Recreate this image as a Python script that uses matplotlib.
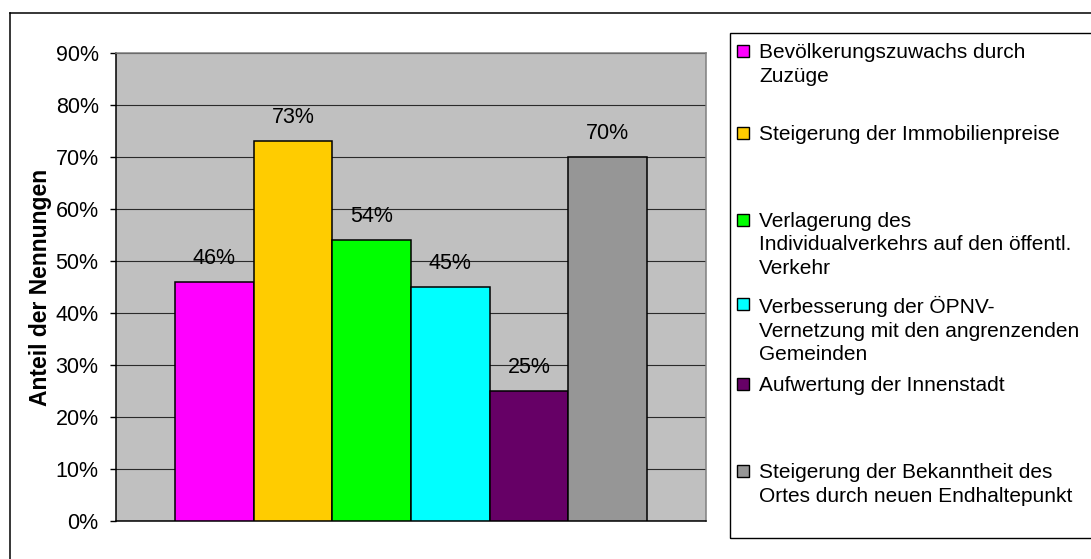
#!usr/bin/python
"""
Bar chart: Anteil der Nennungen (Excel style, legend on the right)
"""
import matplotlib.pyplot as plt
from matplotlib.lines import Line2D
from matplotlib.patches import Rectangle

# DATA
categories = [
    'Bevölkerungszuwachs durch\nZuzüge',
    'Steigerung der Immobilienpreise',
    'Verlagerung des\nIndividualverkehrs auf den öffentl.\nVerkehr',
    'Verbesserung der ÖPNV-\nVernetzung mit den angrenzenden\nGemeinden',
    'Aufwertung der Innenstadt',
    'Steigerung der Bekanntheit des\nOrtes durch neuen Endhaltepunkt',
]
values = [46, 73, 54, 45, 25, 70]
y_ticks = [0, 10, 20, 30, 40, 50, 60, 70, 80, 90]

# STYLE
colours = ['#FF00FF', '#FFCC00', '#00FF00', '#00FFFF', '#660066', '#969696']
FONT = 'Liberation Sans'
W, H = 1091, 559
# legend entry text tops (pixels from top), Excel spreads them unevenly
legend_tops = [45, 127, 214, 298, 378, 465]


def fx(px):
    return px / W


def fy(py):
    return 1 - py / H


def main():
    plt.rcParams['font.family'] = [FONT, 'DejaVu Sans']
    fig = plt.figure(figsize=(W / 100, H / 100), dpi=100)
    ax = fig.add_axes([fx(116), fy(521), fx(706) - fx(116), fy(53) - fy(521)])
    ax.set_facecolor('#C0C0C0')

    xs = list(range(len(values)))
    ax.bar(xs, values, width=1.0, color=colours, edgecolor='black',
           linewidth=1.1, zorder=3)
    for x_val, v in zip(xs, values):
        ax.annotate(f'{v}%', (x_val, v), xytext=(0, 13), textcoords='offset points',
                    ha='center', va='baseline', fontsize=15.5, zorder=4)

    ax.set_xlim(-1.25, len(values) + 0.25)
    ax.set_ylim(0, 90)
    ax.set_yticks(y_ticks)
    ax.set_yticklabels([f'{t}%' for t in y_ticks])
    ax.set_xticks([])
    ax.tick_params(axis='y', direction='out', length=4.5, width=1, pad=8,
                   labelsize=15.5, color='black')
    ax.grid(axis='y', color='#2a2a2a', linewidth=0.8, zorder=1)
    ax.set_axisbelow(True)
    for side in ['left', 'bottom']:
        ax.spines[side].set_color('black')
        ax.spines[side].set_linewidth(1.1)
    for side in ['top', 'right']:
        ax.spines[side].set_color('#808080')
        ax.spines[side].set_linewidth(1.1)
    ax.set_ylabel('Anteil der Nennungen', fontsize=16.5, fontweight='bold',
                  va='center')
    ax.yaxis.set_label_coords(fx(41), 0.5 * (fy(53) + fy(521)),
                              transform=fig.transFigure)

    # outer chart border (right and bottom edges run off the picture)
    fig.add_artist(Line2D([fx(10), fx(10)], [fy(13), -0.05], color='black', linewidth=1.1))
    fig.add_artist(Line2D([fx(10), 1.05], [fy(13), fy(13)], color='black', linewidth=1.1))

    # legend box
    fig.add_artist(Rectangle((fx(730), fy(538)), 1.0, fy(33) - fy(538),
                             transform=fig.transFigure, facecolor='none',
                             edgecolor='black', linewidth=1.0))
    for label, col, top in zip(categories, colours, legend_tops):
        fig.add_artist(Rectangle((fx(737), fy(top + 12)), fx(12), fy(top) - fy(top + 12),
                                 transform=fig.transFigure, facecolor=col,
                                 edgecolor='black', linewidth=1.0))
        fig.text(fx(759), fy(top - 2), label, ha='left', va='top', fontsize=15,
                 linespacing=1.3)

    fig.savefig('out.png', dpi=100)


if __name__ == '__main__':
    main()
